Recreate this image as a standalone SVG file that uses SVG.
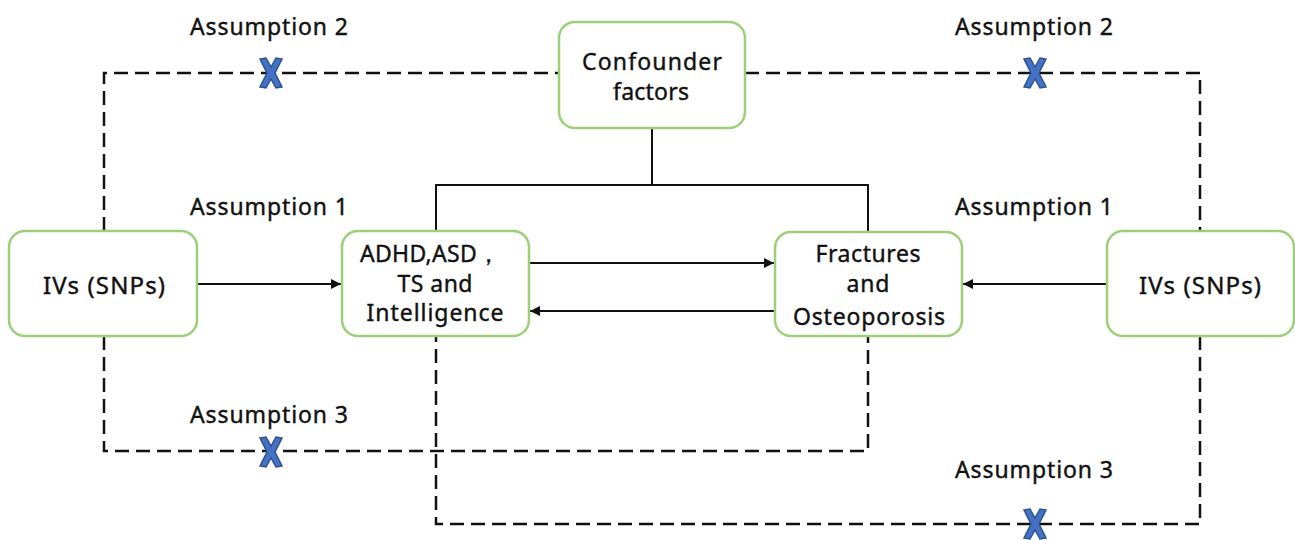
<svg xmlns="http://www.w3.org/2000/svg" width="1295" height="540" viewBox="0 0 1295 540">
<style>
.node{fill:#fff;stroke:#9CCF78;stroke-width:2.5}
.t{font-family:"Noto Sans","DejaVu Sans",sans-serif;font-size:23px;fill:#111;stroke:#111;stroke-width:0.4;text-anchor:middle}
.lbl{font-family:"Noto Sans","DejaVu Sans",sans-serif;font-size:23px;fill:#111;stroke:#111;stroke-width:0.4}
.dash{fill:none;stroke:#111;stroke-width:2.5;stroke-dasharray:14 7}
.solid{fill:none;stroke:#111;stroke-width:2}
.xm{fill:#4472C4;stroke:#2F528F;stroke-width:1.5}
</style>
<defs>
<marker id="ah" viewBox="0 0 10 10" refX="10" refY="5" markerWidth="5" markerHeight="5" orient="auto" markerUnits="strokeWidth">
<path d="M0,0 L10,5 L0,10 z" fill="#111"/>
</marker>
<path id="x" class="xm" d="M-11,-14 L-5,-15 L0,-6 L5,-15 L11,-14 L4,0 L11,14 L5,15 L0,6 L-5,15 L-11,14 L-4,0 Z"/>
</defs>
<rect width="1295" height="540" fill="#fff"/>
<g id="connectors">
<path class="dash" d="M104,231 V73 H559"/>
<path class="dash" d="M745,73 H1200 V231"/>
<path class="dash" d="M104,336 V451 H868 V336"/>
<path class="dash" d="M1200,336 V524 H436 V336"/>
<path class="solid" d="M652,128 V185"/>
<path class="solid" d="M436,231 V185 H868 V232"/>
<line class="solid" x1="197" y1="284" x2="341" y2="284" marker-end="url(#ah)"/>
<line class="solid" x1="529" y1="263" x2="774" y2="263" marker-end="url(#ah)"/>
<line class="solid" x1="775" y1="311" x2="530" y2="311" marker-end="url(#ah)"/>
<line class="solid" x1="1107" y1="284" x2="963" y2="284" marker-end="url(#ah)"/>
</g>
<g id="marks">
<use href="#x" x="271" y="73"/>
<use href="#x" x="1035" y="73"/>
<use href="#x" x="271" y="452"/>
<use href="#x" x="1035" y="524"/>
</g>
<g id="labels">
<text class="lbl" x="190" y="35" textLength="158">Assumption 2</text>
<text class="lbl" x="955" y="35" textLength="158">Assumption 2</text>
<text class="lbl" x="190" y="215" textLength="158">Assumption 1</text>
<text class="lbl" x="955" y="215" textLength="158">Assumption 1</text>
<text class="lbl" x="190" y="423" textLength="158">Assumption 3</text>
<text class="lbl" x="955" y="478" textLength="158">Assumption 3</text>
</g>
<g id="ivs-left">
<rect class="node" x="9" y="231" width="188" height="105" rx="16"/>
<text class="t" x="104" y="294" style="font-size:24px" textLength="122">IVs (SNPs)</text>
</g>
<g id="exposure">
<rect class="node" x="342" y="231" width="187" height="105" rx="16"/>
<text class="t" x="430" y="262" textLength="140">ADHD,ASD，</text>
<text class="t" x="435" y="292" textLength="75">TS and</text>
<text class="t" x="435" y="321" textLength="137">Intelligence</text>
</g>
<g id="outcome">
<rect class="node" x="775" y="232" width="187" height="104" rx="16"/>
<text class="t" x="868" y="262" textLength="105">Fractures</text>
<text class="t" x="868" y="292" textLength="43">and</text>
<text class="t" x="869" y="325" textLength="152">Osteoporosis</text>
</g>
<g id="ivs-right">
<rect class="node" x="1107" y="231" width="187" height="105" rx="16"/>
<text class="t" x="1200" y="294" style="font-size:24px" textLength="122">IVs (SNPs)</text>
</g>
<g id="confounder">
<rect class="node" x="559" y="22" width="186" height="106" rx="16"/>
<text class="t" x="652" y="70" textLength="140">Confounder</text>
<text class="t" x="651" y="100" textLength="76">factors</text>
</g>
</svg>
